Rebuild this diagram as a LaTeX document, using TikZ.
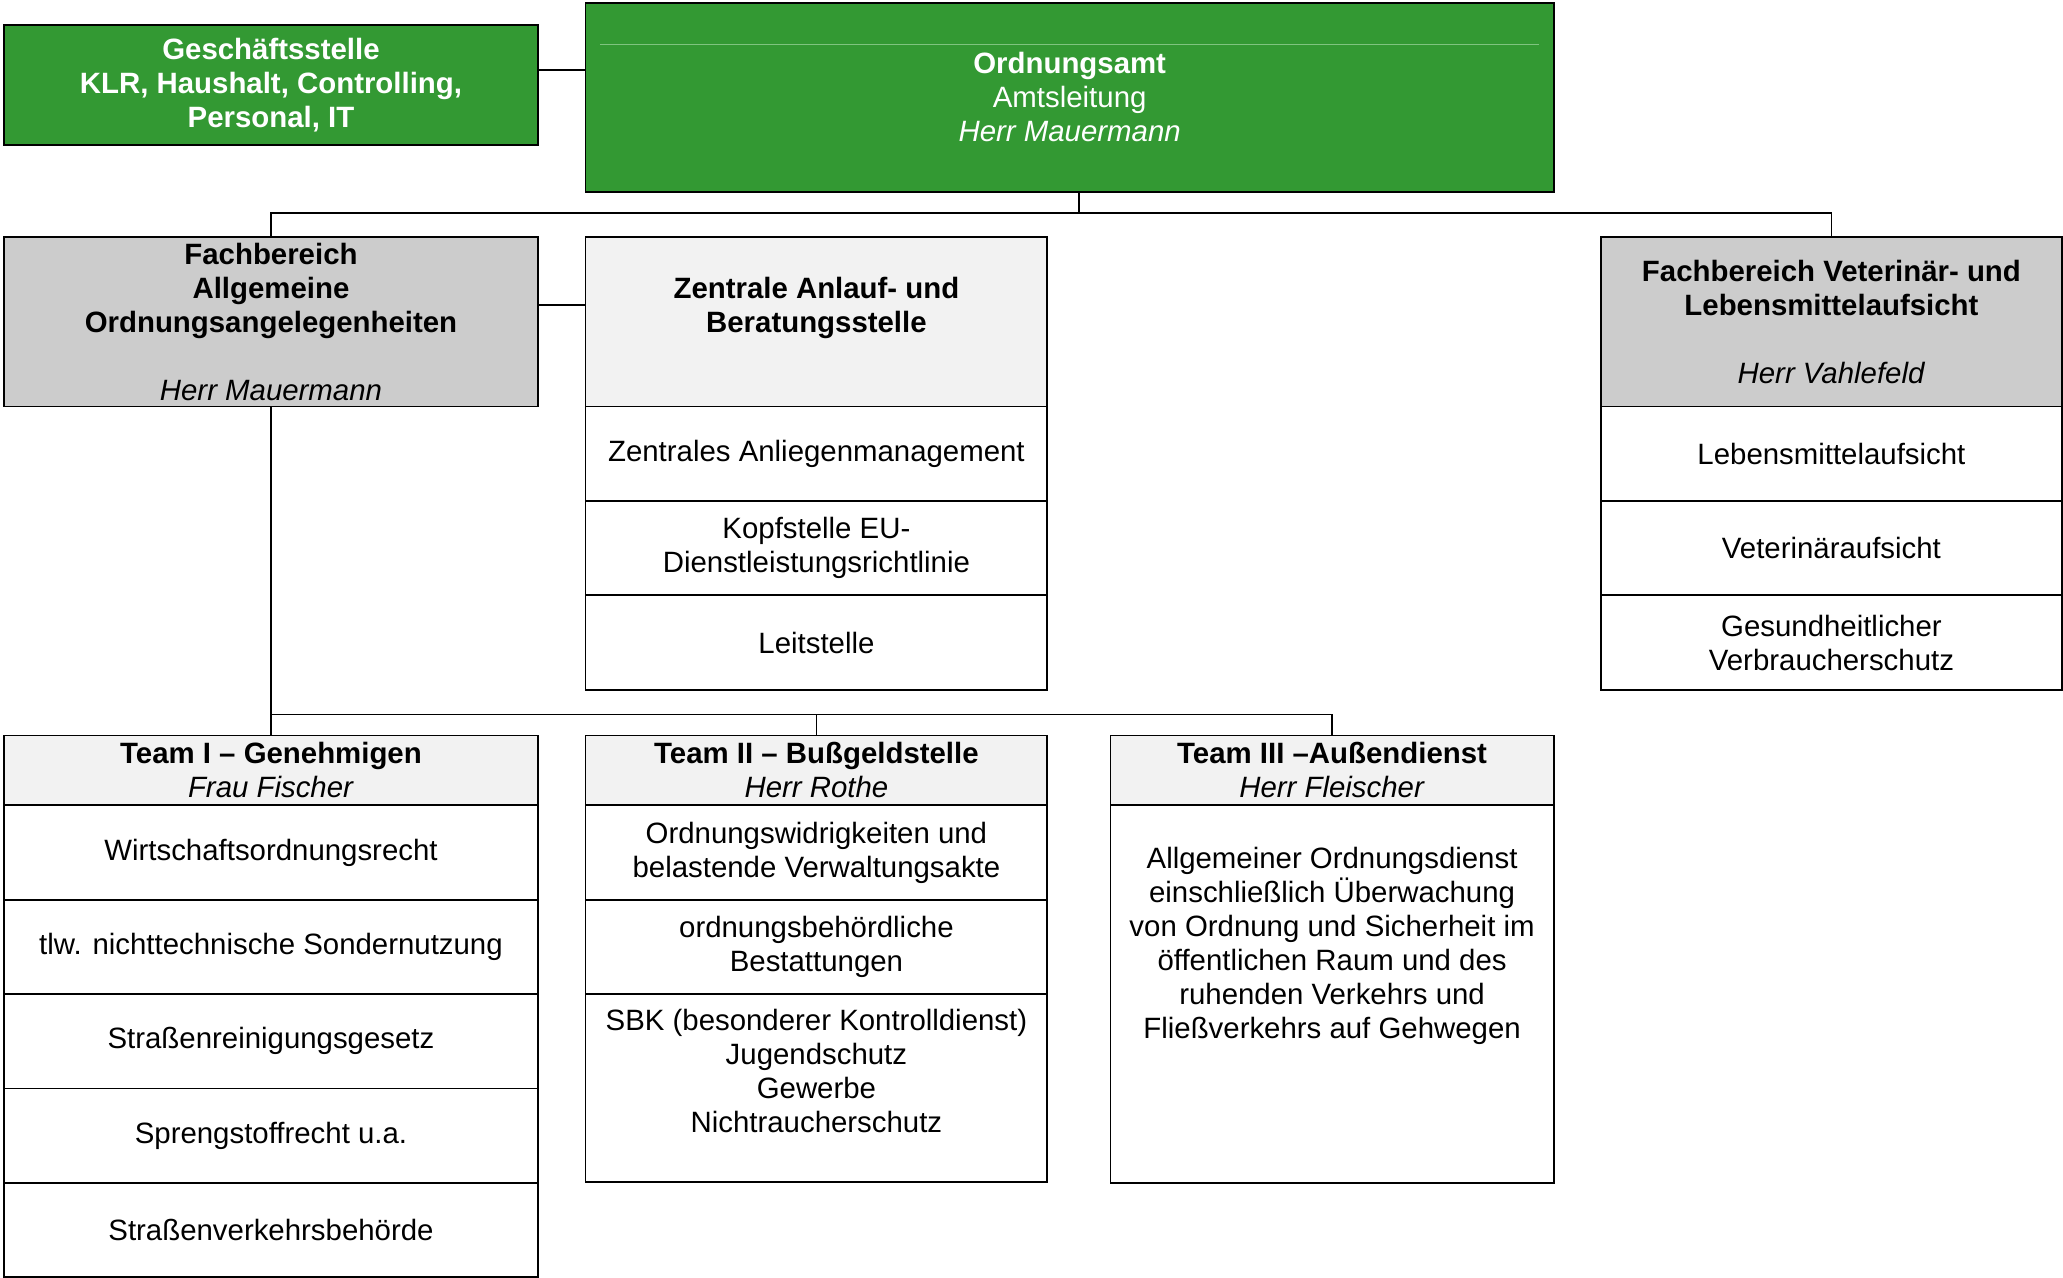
\documentclass[tikz,border=0pt]{standalone}
\usepackage{fontspec}
\setmainfont{Liberation Sans}
\usetikzlibrary{positioning}

\definecolor{amtgruen}{HTML}{339933}
\definecolor{hellgruen}{HTML}{7FC47F}
\definecolor{fbgrau}{HTML}{CCCCCC}
\definecolor{teamgrau}{HTML}{F2F2F2}

\tikzset{
	kasten/.style={draw=black, line width=0.9pt, align=center, inner sep=0pt, outer sep=0pt, text=black, font=\fontsize{14.7}{17}\selectfont},
	gruen/.style={kasten, fill=amtgruen, text=white},
	fbkopf/.style={kasten, fill=fbgrau, minimum height=84.9pt},
	teamkopf/.style={kasten, fill=teamgrau, minimum height=34.9pt},
	zeile/.style={kasten, fill=white, minimum height=47.2pt},
	breitA/.style={minimum width=267.1pt},
	breitB/.style={minimum width=231pt},
	breitC/.style={minimum width=221.7pt},
	breitD/.style={minimum width=230.3pt},
	linie/.style={line width=0.8pt}
}

\begin{document}
\begin{tikzpicture}[x=0.658pt, y=-0.658pt]
	
	\useasboundingbox (0,0) rectangle (1568,971);
	
	% Amtsleitung
	\node[gruen, anchor=north west, minimum width=484.3pt, minimum height=94.8pt] (amt) at (445,2)
		{\textbf{Ordnungsamt}\\Amtsleitung\\\textit{Herr Mauermann}};
	\draw[hellgruen, line width=0.6pt] (456,34) -- (1170,34);
	\node[gruen, breitA, anchor=north west, minimum height=59.9pt] (gs) at (3,19)
		{\textbf{Geschäftsstelle}\\\textbf{KLR, Haushalt, Controlling,}\\\textbf{Personal, IT}};
	
	% Fachbereiche
	\node[fbkopf, breitA, anchor=north west] (fa) at (3,180)
		{\textbf{Fachbereich}\\\textbf{Allgemeine}\\\textbf{Ordnungsangelegenheiten}\\[17pt]\textit{Herr Mauermann}};
	\node[kasten, fill=teamgrau, breitB, minimum height=84.9pt, anchor=north west] (zab) at (445,180)
		{\textbf{Zentrale Anlauf- und}\\\textbf{Beratungsstelle}\\~};
	\node[zeile, breitB, below=0pt of zab] (zab1) {Zentrales Anliegenmanagement};
	\node[zeile, breitB, below=0pt of zab1] (zab2) {Kopfstelle EU-\\Dienstleistungsrichtlinie};
	\node[zeile, breitB, below=0pt of zab2] (zab3) {Leitstelle};
	
	\node[fbkopf, breitD, anchor=north west] (fv) at (1217,180)
		{\textbf{Fachbereich Veterinär- und}\\\textbf{Lebensmittelaufsicht}\\[17pt]\textit{Herr Vahlefeld}};
	\node[zeile, breitD, below=0pt of fv] (fv1) {Lebensmittelaufsicht};
	\node[zeile, breitD, below=0pt of fv1] (fv2) {Veterinäraufsicht};
	\node[zeile, breitD, below=0pt of fv2] (fv3) {Gesundheitlicher\\Verbraucherschutz};
	
	% Teams
	\node[teamkopf, breitA, anchor=north west] (t1) at (3,559)
		{\textbf{Team I – Genehmigen}\\\textit{Frau Fischer}};
	\node[zeile, breitA, below=0pt of t1] (t1a) {Wirtschaftsordnungsrecht};
	\node[zeile, breitA, below=0pt of t1a] (t1b) {tlw. nichttechnische Sondernutzung};
	\node[zeile, breitA, below=0pt of t1b] (t1c) {Straßenreinigungsgesetz};
	\node[zeile, breitA, below=0pt of t1c] (t1d) {Sprengstoffrecht u.a.};
	\node[zeile, breitA, below=0pt of t1d] (t1e) {Straßenverkehrsbehörde};
	
	\node[teamkopf, breitB, anchor=north west] (t2) at (445,559)
		{\textbf{Team II – Bußgeldstelle}\\\textit{Herr Rothe}};
	\node[zeile, breitB, below=0pt of t2] (t2a) {Ordnungswidrigkeiten und\\belastende Verwaltungsakte};
	\node[zeile, breitB, below=0pt of t2a] (t2b) {ordnungsbehördliche\\Bestattungen};
	\node[zeile, breitB, minimum height=94.1pt, below=0pt of t2b] (t2c)
		{SBK (besonderer Kontrolldienst)\\Jugendschutz\\Gewerbe\\Nichtraucherschutz\\~};
	
	\node[teamkopf, breitC, anchor=north west] (t3) at (844,559)
		{\textbf{Team III –Außendienst}\\\textit{Herr Fleischer}};
	\node[zeile, breitC, minimum height=188.8pt, below=0pt of t3] (t3a)
		{Allgemeiner Ordnungsdienst\\einschließlich Überwachung\\von Ordnung und Sicherheit im\\öffentlichen Raum und des\\ruhenden Verkehrs und\\Fließverkehrs auf Gehwegen\\~\\~\\~};
	
	% Verbindungen
	\path (gs.north east) ++(0,34) coordinate (k1);
	\draw[linie] (k1) -- (k1 -| amt.west);
	\coordinate (k2) at (820,162);
	\draw[linie] (k2 |- amt.south) -- (k2);
	\draw[linie] (fa.north) |- (k2) -| (fv.north);
	\path (fa.north east) ++(0,52) coordinate (k3);
	\draw[linie] (k3) -- (k3 -| zab.west);
	\path (t1.north) ++(0,-16) coordinate (k4);
	\draw[linie] (fa.south) -- (t1.north);
	\draw[linie] (k4) -| (t3.north);
	\draw[linie] (t2.north) -- (t2.north |- k4);
	
\end{tikzpicture}
\end{document}
